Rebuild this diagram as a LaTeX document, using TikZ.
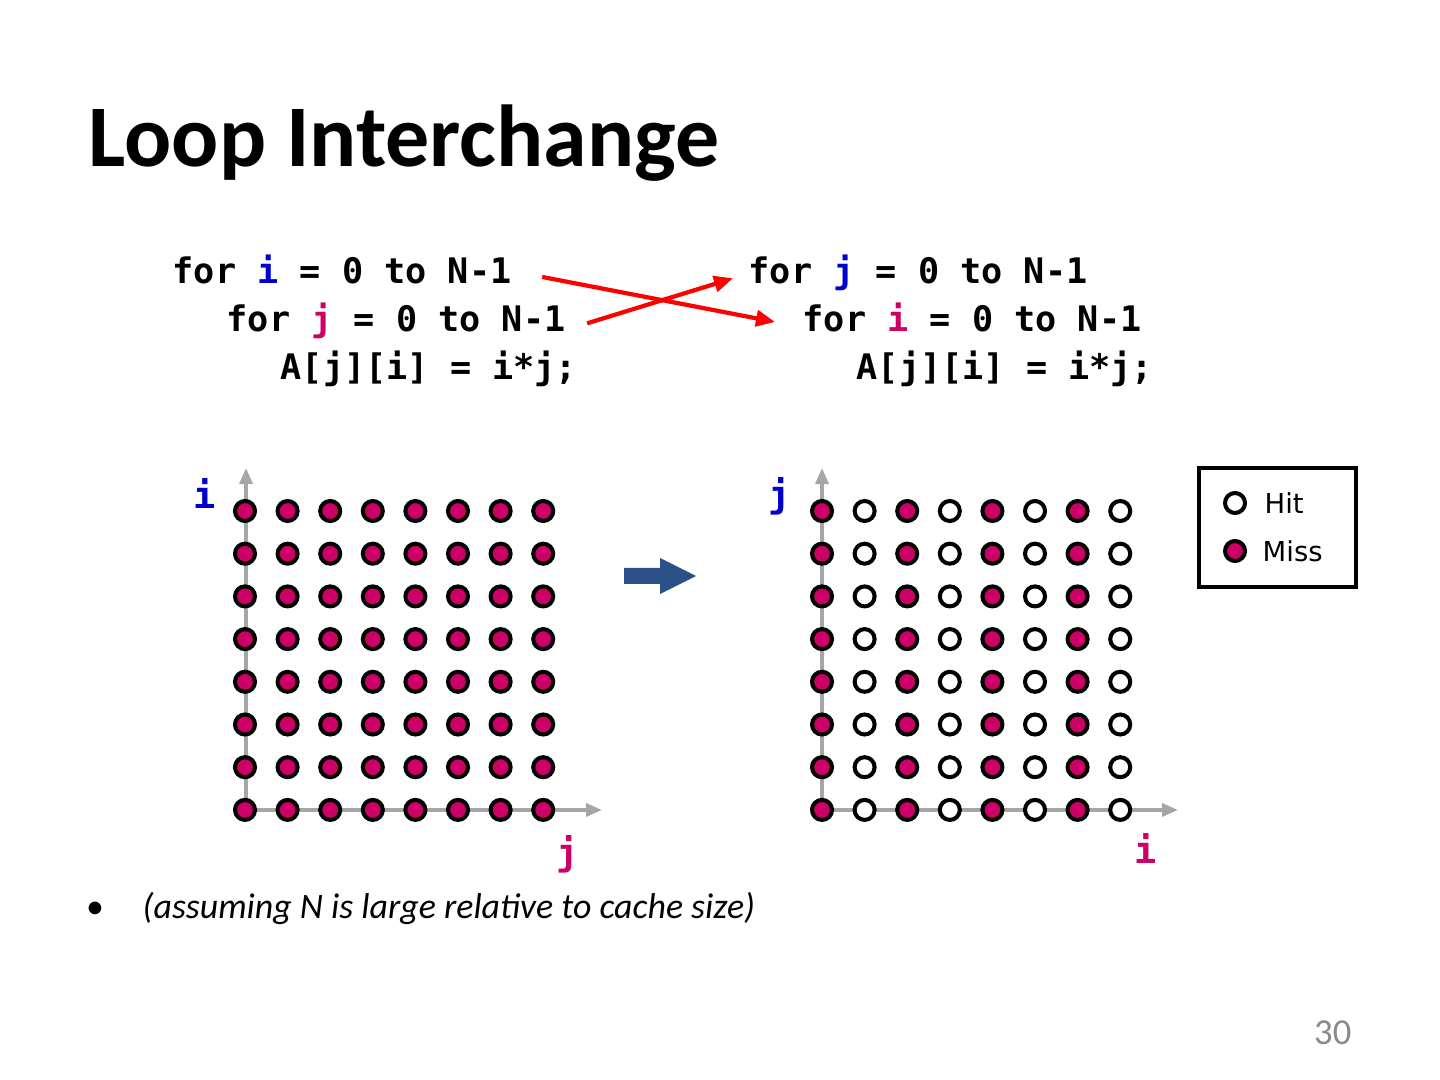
\documentclass[tikz,border=0pt]{standalone}
\usepackage{fontspec}
\setmainfont{Carlito}
\newfontfamily\codefont{DejaVu Sans Mono}
\newfontfamily\legendfont{DejaVu Sans}
\usetikzlibrary{arrows.meta, positioning, calc}
\definecolor{missred}{HTML}{CC0066}
\definecolor{varblue}{HTML}{0000CC}
\definecolor{axisgray}{HTML}{A6A6A6}
\definecolor{stepblue}{HTML}{2A5288}
\definecolor{pagegray}{HTML}{8A8A8A}

\begin{document}
\begin{tikzpicture}[x=0.01cm, y=-0.01cm,
  code/.style={anchor=base west, inner sep=0pt, font=\codefont\bfseries\fontsize{10}{12}\selectfont},
  axlabel/.style={anchor=base, inner sep=0pt, font=\codefont\bfseries\fontsize{10.5}{12}\selectfont},
  miss/.style={circle, draw, line width=1.15pt, fill=missred, minimum size=0.2cm, inner sep=0pt},
  hit/.style={circle, draw, line width=1.15pt, fill=white, minimum size=0.2cm, inner sep=0pt},
  axis/.style={draw=axisgray, line width=1pt, -{Triangle[length=1.6mm, width=1.3mm]}},
  swap/.style={draw=red, line width=1.2pt, -{Triangle[length=1.9mm, width=1.6mm]}},
  legtext/.style={anchor=base west, inner sep=0pt, font=\legendfont\fontsize{7.8}{9}\selectfont}
]
\useasboundingbox (0,0) rectangle (1440,1080);

\node[anchor=base west, inner sep=0pt, font=\bfseries\fontsize{25}{30}\selectfont] (title) at (88,167) {Loop Interchange};

% the two loop nests
\node[code] (l1) at (172,284) {for \textcolor{varblue}{i} = 0 to N-1};
\node[code] (l2) at (226,332) {for \textcolor{missred}{j} = 0 to N-1};
\node[code] (l3) at (280,380) {A[j][i] = i*j;};
\node[code] (r1) at (748,284) {for \textcolor{varblue}{j} = 0 to N-1};
\node[code] (r2) at (802,332) {for \textcolor{missred}{i} = 0 to N-1};
\node[code] (r3) at (856,380) {A[j][i] = i*j;};

\draw[swap] ([shift={(30,7)}]l1.east) -- ([shift={(-27,4)}]r2.west);
\draw[swap] ([shift={(21,2)}]l2.east) -- ([shift={(-15,5)}]r1.west);

% left grid: every access misses
\coordinate (lo) at (246,810);
\coordinate (ly) at (246,468);
\coordinate (lx) at (602,810);
\draw[axis] (lo) -- (ly);
\draw[axis] (lo) -- (lx);
\foreach \r in {0,...,7}
  \foreach \c in {0,...,7}
    \node[miss] (a-\r-\c) at ({245+42.6*\c},{511+42.7*\r}) {};
\node[axlabel, text=varblue] (li) at (205,509) {i};
\node[axlabel, text=missred] (lj) at (568,865) {j};

\fill[stepblue] (624,568) -- (660,568) -- (660,558) -- (696,576) -- (660,594) -- (660,584) -- (624,584) -- cycle;

% right grid: every other column hits
\coordinate (ro) at (822,810);
\coordinate (ry) at (822,468);
\coordinate (rx) at (1178,810);
\draw[axis] (ro) -- (ry);
\draw[axis] (ro) -- (rx);
\foreach \r in {0,...,7}
  \foreach \c/\kind in {0/miss,1/hit,2/miss,3/hit,4/miss,5/hit,6/miss,7/hit}
    \node[\kind] (b-\r-\c) at ({822+42.6*\c},{511+42.7*\r}) {};
\node[axlabel, text=varblue] (rj) at (780,508) {j};
\node[axlabel, text=missred] (ri) at (1146,863) {i};

% legend
\node[draw, line width=1.1pt, minimum width=1.57cm, minimum height=1.19cm, inner sep=0pt] (legend) at (1277.5,527.5) {};
\node[hit] (kh) at (1235,503) {};
\node[miss] (km) at (1235,551) {};
\node[legtext] (kht) at (1264,514) {Hit};
\node[legtext] (kmt) at (1262,562) {Miss};

\node[anchor=base, inner sep=0pt, font=\fontsize{10.2}{12}\selectfont] (dot) at (95,918) {\textbullet};
\node[anchor=base west, inner sep=0pt, font=\itshape\fontsize{10.2}{12}\selectfont] (note) at (142,918) {(assuming N is large relative to cache size)};
\node[anchor=base east, inner sep=0pt, text=pagegray, font=\fontsize{10.4}{12}\selectfont] (page) at (1352,1044) {30};
\end{tikzpicture}
\end{document}
